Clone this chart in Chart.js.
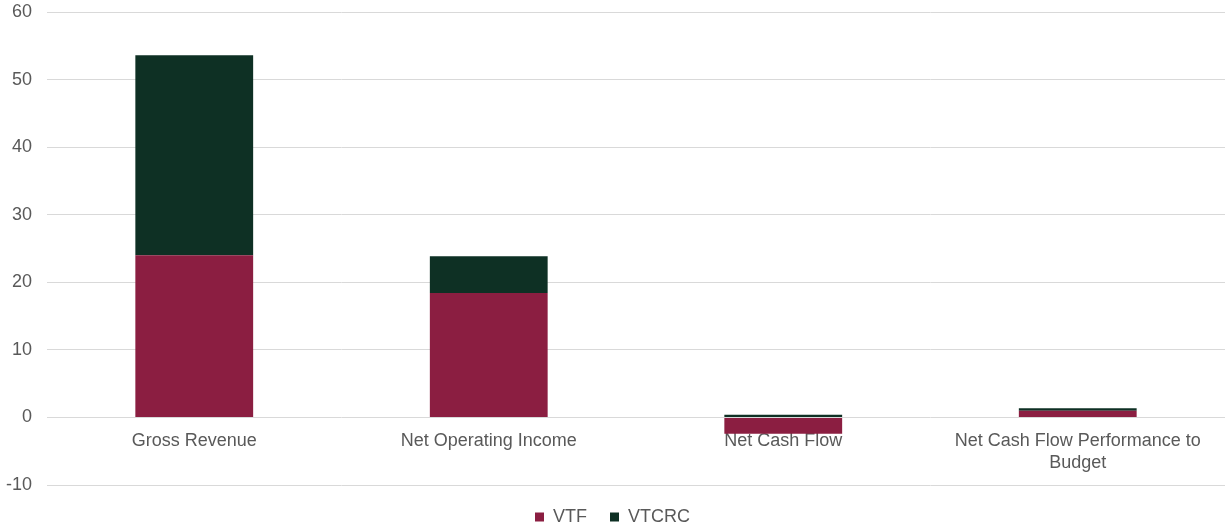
<!DOCTYPE html>
<html>
<head>
<meta charset="utf-8">
<script src="https://cdn.jsdelivr.net/npm/chart.js@4"></script>
<style>
  html, body { margin: 0; padding: 0; background: #fff; }
  #wrap { width: 1225px; height: 527px; position: relative; }
</style>
</head>
<body>
<div id="wrap"><canvas id="chart"></canvas></div>
<script>
const categories = [
  'Gross Revenue',
  'Net Operating Income',
  'Net Cash Flow',
  ['Net Cash Flow Performance to', 'Budget']
];
const vtf = [24.0, 18.4, -2.4, 1.0];
const vtcrc = [29.6, 5.45, 0.4, 0.35];
const yTicks = [-10, 0, 10, 20, 30, 40, 50, 60];

const textColor = '#595959';
const gridColor = '#d9d9d9';

Chart.defaults.font.family = '"Liberation Sans", Arial, sans-serif';
Chart.defaults.font.size = 18;
Chart.defaults.color = textColor;

const ctx = document.getElementById('chart').getContext('2d');
new Chart(ctx, {
  type: 'bar',
  data: {
    labels: categories,
    datasets: [
      {
        label: 'VTF',
        data: vtf,
        backgroundColor: '#8b1e41',
        borderWidth: 0,
        categoryPercentage: 1,
        barPercentage: 0.4
      },
      {
        label: 'VTCRC',
        data: vtcrc,
        backgroundColor: '#0e3024',
        borderWidth: 0,
        categoryPercentage: 1,
        barPercentage: 0.4
      }
    ]
  },
  options: {
    responsive: true,
    maintainAspectRatio: false,
    animation: false,
    layout: { padding: { top: 0, right: 0, left: 0, bottom: -9 } },
    plugins: {
      legend: {
        position: 'bottom',
        labels: {
          boxWidth: 9,
          boxHeight: 9,
          padding: 23,
          color: textColor,
          font: { size: 18 }
        }
      },
      tooltip: { enabled: false }
    },
    scales: {
      x: {
        stacked: true,
        position: { y: 0 },
        grid: { display: false },
        border: { display: false },
        ticks: { color: textColor, padding: 5, maxRotation: 0, autoSkip: false }
      },
      y: {
        stacked: true,
        min: -10,
        max: 60,
        afterBuildTicks: axis => { axis.ticks = yTicks.map(v => ({ value: v })); },
        afterFit: axis => {
          axis.width = 47;
          axis.paddingTop = 12;
          axis.paddingBottom = 0;
        },
        grid: { color: gridColor, lineWidth: 1, drawTicks: false },
        border: { display: false },
        ticks: { color: textColor, padding: 15 }
      }
    }
  }
});
</script>
</body>
</html>
